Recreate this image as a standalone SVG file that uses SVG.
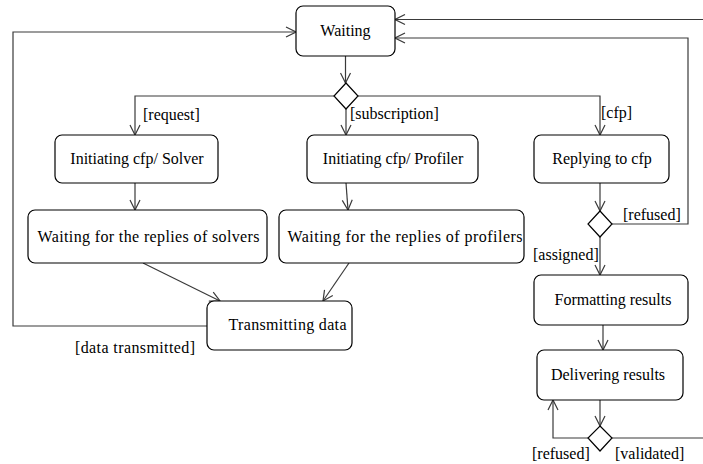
<svg xmlns="http://www.w3.org/2000/svg" width="703" height="464" viewBox="0 0 703 464">
  <style>
    .node rect { fill: #ffffff; stroke: #000000; stroke-width: 1.2; }
    .node text { text-anchor: middle; }
    .decision { fill: #ffffff; stroke: #000000; stroke-width: 1.2; }
    #connectors path { fill: none; stroke: #3a3a3a; stroke-width: 1.2; }
    .arrow { marker-end: url(#open-arrow); }
  </style>
  <defs>
    <marker id="open-arrow" markerUnits="userSpaceOnUse" markerWidth="12" markerHeight="12" viewBox="0 0 12 12" refX="11" refY="6" orient="auto">
      <path d="M1,1 L11,6 L1,11" fill="none" stroke="#3a3a3a" stroke-width="1.2"/>
    </marker>
  </defs>
  <rect width="703" height="464" fill="#ffffff"/>

  <g id="connectors">
    <!-- Waiting -> first decision -->
    <path class="arrow" d="M345.5,56 L345.5,83"/>
    <!-- first decision branches -->
    <path class="arrow" d="M334,96 L135,96 L135,135"/>
    <path class="arrow" d="M346,109 L346,135"/>
    <path class="arrow" d="M358,96 L600,96 L600,135"/>
    <!-- solver / profiler chains -->
    <path class="arrow" d="M135,183 L135,210"/>
    <path class="arrow" d="M346,183 L348,210"/>
    <path class="arrow" d="M143,263 L220,301"/>
    <path class="arrow" d="M349,263 L323,301"/>
    <!-- data transmitted loop back to Waiting -->
    <path class="arrow" d="M207,326 L13,326 L13,32 L296,32"/>
    <!-- cfp chain -->
    <path class="arrow" d="M600,183 L600,211"/>
    <path class="arrow" d="M612,224 L688,224 L688,38 L395,38"/>
    <path class="arrow" d="M600,237 L600,275"/>
    <path class="arrow" d="M603,325 L603,350"/>
    <path class="arrow" d="M600,400 L600,426"/>
    <path class="arrow" d="M589,438 L553,438 L553,400"/>
    <path d="M612,438 L703,438"/>
    <!-- incoming from the right edge -->
    <path class="arrow" d="M703,19.5 L395,19.5"/>
  </g>

  <g font-family="Liberation Serif, Times New Roman, serif" font-size="16" fill="#000000">
  <g id="waiting" class="node">
    <rect x="296" y="6" width="99" height="50" rx="7"/>
    <text x="345.5" y="36">Waiting</text>
  </g>
  <g id="decision-request">
    <polygon class="decision" points="346,83 358,96 346,109 334,96"/>
  </g>
  <g id="init-solver" class="node">
    <rect x="55" y="135" width="163" height="48" rx="7"/>
    <text x="137" y="164">Initiating cfp/ Solver</text>
  </g>
  <g id="init-profiler" class="node">
    <rect x="307" y="135" width="171" height="48" rx="7"/>
    <text x="393" y="164">Initiating cfp/ Profiler</text>
  </g>
  <g id="replying" class="node">
    <rect x="534" y="135" width="135" height="48" rx="7"/>
    <text x="602" y="164">Replying to cfp</text>
  </g>
  <g id="wait-solvers" class="node">
    <rect x="28" y="210" width="239" height="53" rx="7"/>
    <text x="148.5" y="242" textLength="222">Waiting for the replies of solvers</text>
  </g>
  <g id="wait-profilers" class="node">
    <rect x="279" y="210" width="245" height="53" rx="7"/>
    <text x="405" y="242" textLength="235">Waiting for the replies of profilers</text>
  </g>
  <g id="transmitting" class="node">
    <rect x="207" y="301" width="145" height="49" rx="7"/>
    <text x="287.5" y="330" textLength="118">Transmitting data</text>
  </g>
  <g id="decision-cfp">
    <polygon class="decision" points="600,211 612,224 600,237 588,224"/>
  </g>
  <g id="formatting" class="node">
    <rect x="534" y="275" width="154" height="50" rx="7"/>
    <text x="613" y="305">Formatting results</text>
  </g>
  <g id="delivering" class="node">
    <rect x="537" y="350" width="146" height="50" rx="7"/>
    <text x="608" y="380">Delivering results</text>
  </g>
  <g id="decision-validation">
    <polygon class="decision" points="600,426 612,438 600,451 588,438"/>
  </g>

  <g id="guards">
    <text x="143" y="120">[request]</text>
    <text x="350" y="119">[subscription]</text>
    <text x="601" y="118">[cfp]</text>
    <text x="623" y="220">[refused]</text>
    <text x="533" y="260">[assigned]</text>
    <text x="75" y="353" textLength="120">[data transmitted]</text>
    <text x="532" y="459">[refused]</text>
    <text x="615" y="459">[validated]</text>
  </g>
  </g>
</svg>
